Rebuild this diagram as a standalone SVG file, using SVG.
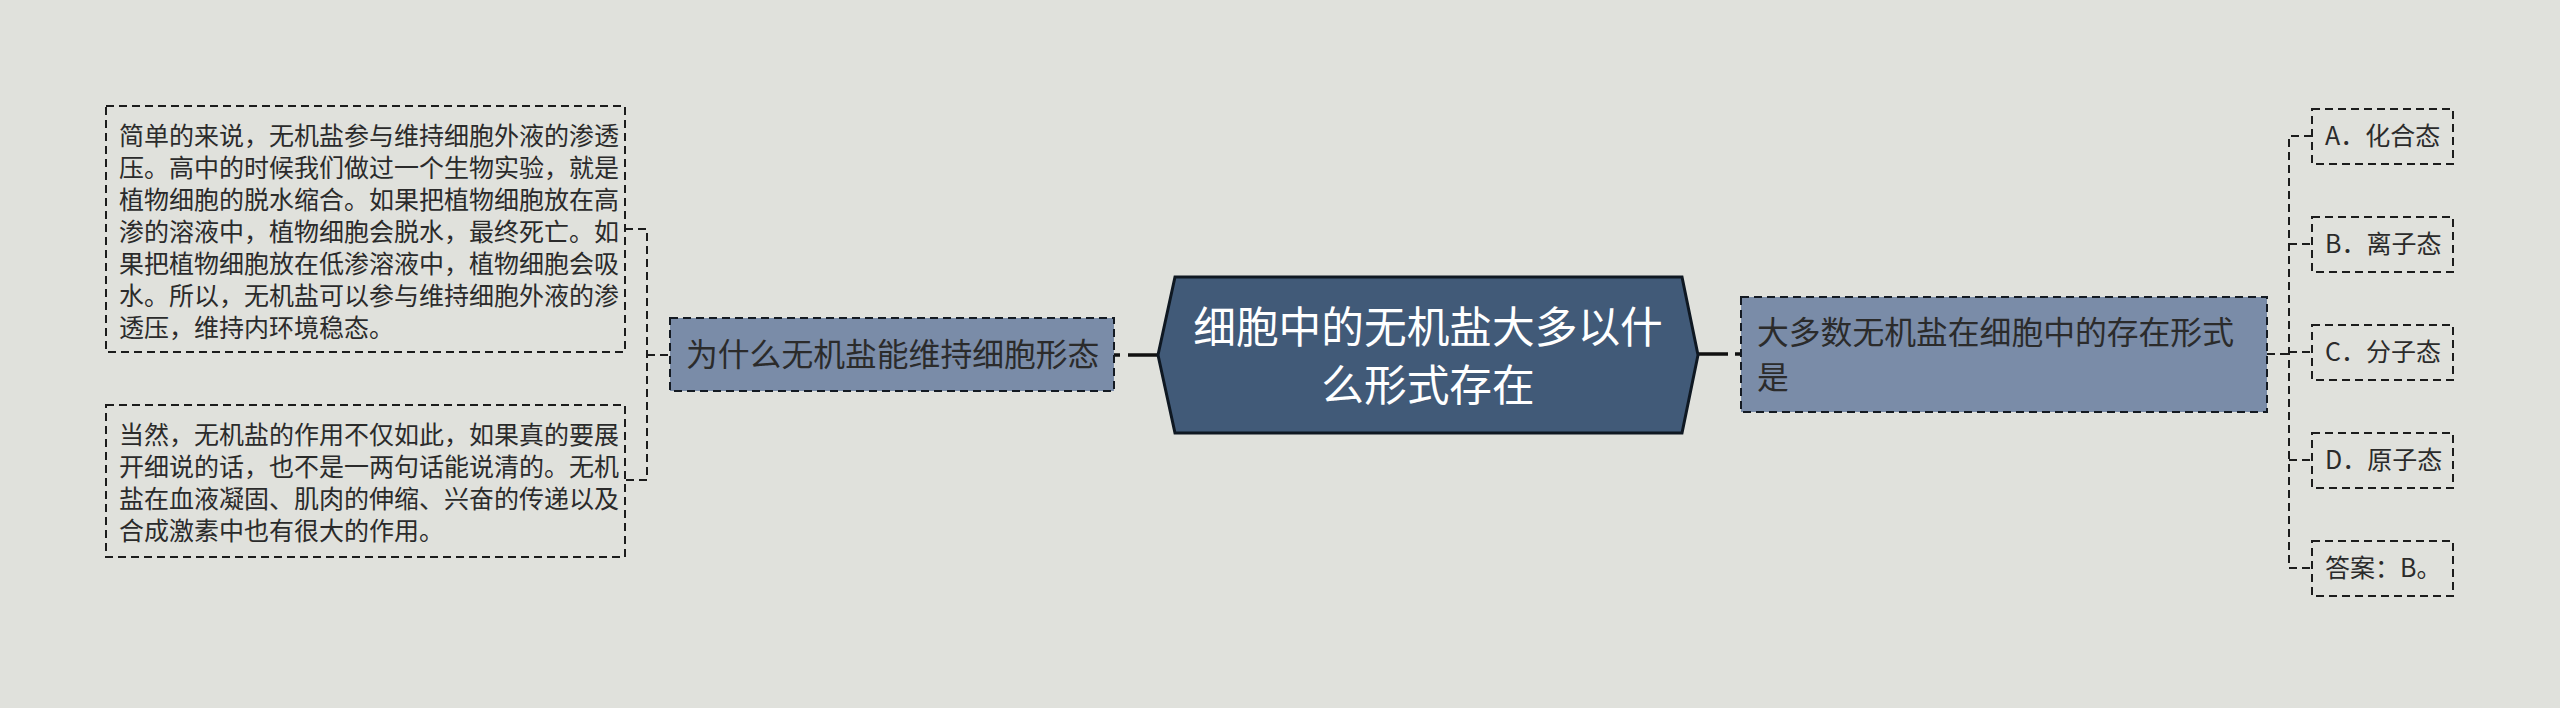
<svg xmlns="http://www.w3.org/2000/svg" width="2560" height="708" viewBox="0 0 2560 708">
<style>
.t{font-family:"Noto Sans CJK SC","Noto Sans",sans-serif;fill:#2b2b2b}
.s{font-size:25px}
.m{font-size:31.8px}
.c{font-size:42.7px;fill:#ffffff;text-anchor:middle}
.box{fill:none;stroke:#1c1c1c;stroke-width:2;stroke-dasharray:8 5}
.node{fill:#7a8ca8;stroke:#141a22;stroke-width:2;stroke-dasharray:8 5}
.dl{fill:none;stroke:#1c1c1c;stroke-width:2;stroke-dasharray:8 5}
.sl{fill:none;stroke:#111;stroke-width:3.5}
</style>
<rect x="0" y="0" width="2560" height="708" fill="#e0e1dc"/>
<g id="connectors">
<line class="sl" x1="1128" y1="355" x2="1160" y2="355"/>
<line class="sl" x1="1114" y1="355" x2="1120" y2="355"/>
<line class="sl" x1="1696" y1="354" x2="1728" y2="354"/>
<line class="sl" x1="1735" y1="354" x2="1741" y2="354"/>
<path class="dl" d="M625 229 H647 V480 H625"/>
<line class="dl" x1="647" y1="355" x2="669" y2="355"/>
<path class="dl" d="M2312 136 H2289 V568 H2312"/>
<line class="dl" x1="2289" y1="244" x2="2312" y2="244"/>
<line class="dl" x1="2289" y1="352" x2="2312" y2="352"/>
<line class="dl" x1="2289" y1="460" x2="2312" y2="460"/>
<line class="dl" x1="2267" y1="354" x2="2289" y2="354"/>
</g>
<g id="center">
<polygon points="1158,355 1175,277 1682,277 1698,355 1682,433 1175,433" fill="#415a78" stroke="#0f1822" stroke-width="3"/>
<text class="t c" x="1428" y="343">细胞中的无机盐大多以什</text>
<text class="t c" x="1428" y="401">么形式存在</text>
</g>
<g id="left-node">
<rect class="node" x="670" y="318" width="444" height="73"/>
<text class="t m" x="686" y="366">为什么无机盐能维持细胞形态</text>
</g>
<g id="left-box-1">
<rect class="box" x="106" y="106" width="519" height="246"/>
<text class="t s" x="119" y="145">简单的来说，无机盐参与维持细胞外液的渗透</text>
<text class="t s" x="119" y="177">压。高中的时候我们做过一个生物实验，就是</text>
<text class="t s" x="119" y="209">植物细胞的脱水缩合。如果把植物细胞放在高</text>
<text class="t s" x="119" y="241">渗的溶液中，植物细胞会脱水，最终死亡。如</text>
<text class="t s" x="119" y="273">果把植物细胞放在低渗溶液中，植物细胞会吸</text>
<text class="t s" x="119" y="305">水。所以，无机盐可以参与维持细胞外液的渗</text>
<text class="t s" x="119" y="337">透压，维持内环境稳态。</text>
</g>
<g id="left-box-2">
<rect class="box" x="106" y="405" width="519" height="152"/>
<text class="t s" x="119" y="444">当然，无机盐的作用不仅如此，如果真的要展</text>
<text class="t s" x="119" y="476">开细说的话，也不是一两句话能说清的。无机</text>
<text class="t s" x="119" y="508">盐在血液凝固、肌肉的伸缩、兴奋的传递以及</text>
<text class="t s" x="119" y="540">合成激素中也有很大的作用。</text>
</g>
<g id="right-node">
<rect class="node" x="1741" y="297" width="526" height="115"/>
<text class="t m" x="1757" y="344">大多数无机盐在细胞中的存在形式</text>
<text class="t m" x="1757" y="389">是</text>
</g>
<g id="opt-a">
<rect class="box" x="2312" y="109" width="141" height="55"/>
<text class="t s" x="2325" y="145">A．化合态</text>
</g>
<g id="opt-b">
<rect class="box" x="2312" y="217" width="141" height="55"/>
<text class="t s" x="2325" y="253">B．离子态</text>
</g>
<g id="opt-c">
<rect class="box" x="2312" y="325" width="141" height="55"/>
<text class="t s" x="2325" y="361">C．分子态</text>
</g>
<g id="opt-d">
<rect class="box" x="2312" y="433" width="141" height="55"/>
<text class="t s" x="2325" y="469">D．原子态</text>
</g>
<g id="answer">
<rect class="box" x="2312" y="541" width="141" height="55"/>
<text class="t s" x="2325" y="577">答案：B。</text>
</g>
</svg>
